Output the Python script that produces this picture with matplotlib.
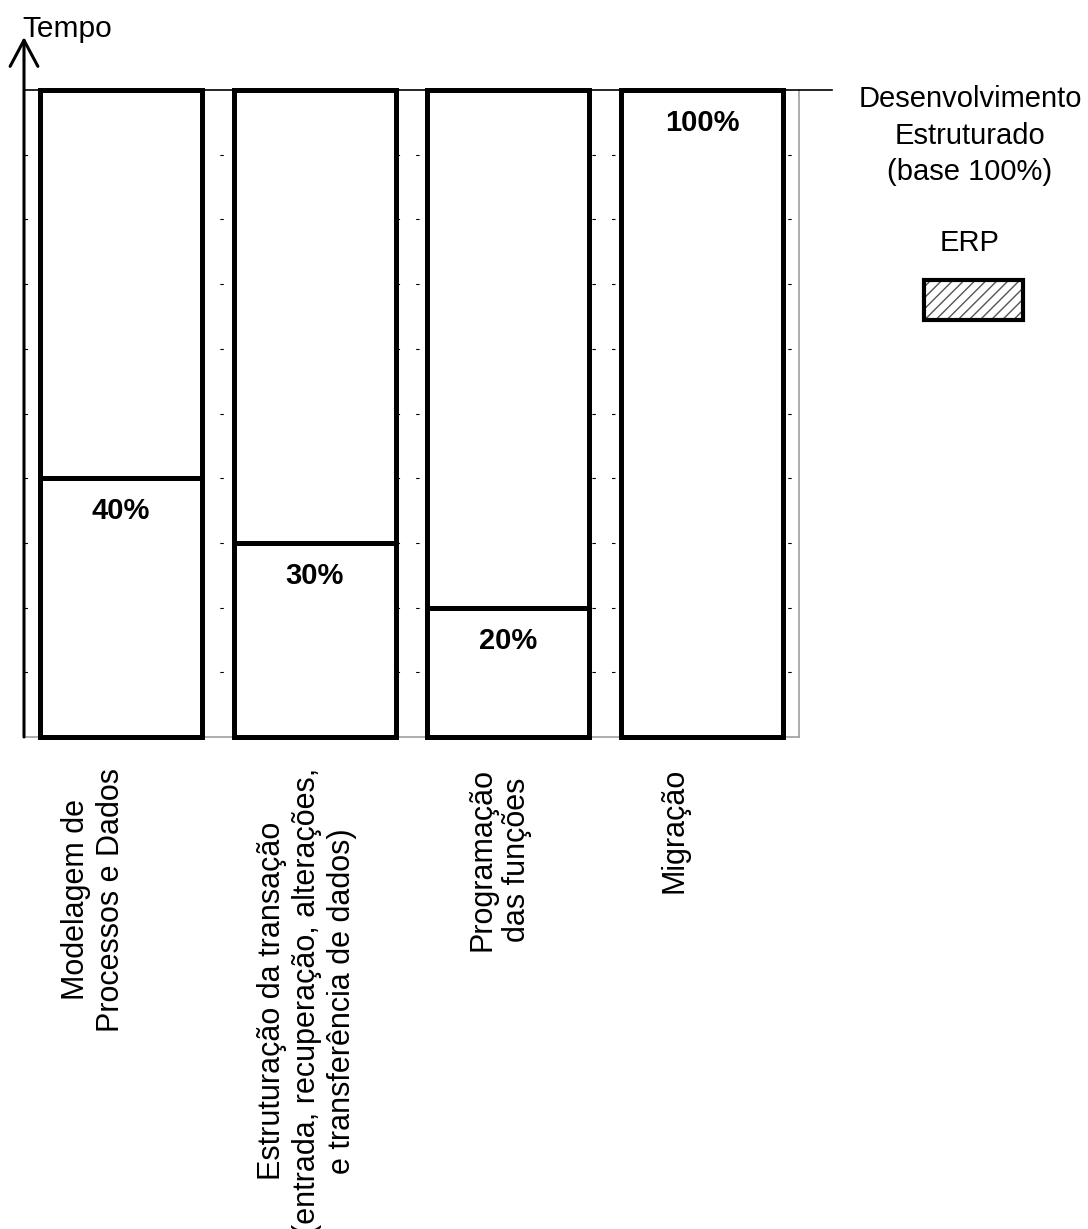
import matplotlib
matplotlib.use("Agg")
import matplotlib.pyplot as plt
from matplotlib.patches import Rectangle
import numpy as np

plt.rcParams["font.family"] = ["Liberation Sans", "DejaVu Sans"]
plt.rcParams["lines.scale_dashes"] = False

# data
categories = [
    "Modelagem de\nProcessos e Dados",
    "Estruturação da transação\n(entrada, recuperação, alterações,\ne transferência de dados)",
    "Programação\ndas funções",
    "Migração",
]
structured = [100, 100, 100, 100]   # desenvolvimento estruturado (base 100%)
erp = [40, 30, 20, 100]             # tempo com ERP
erp_labels = ["40%", "30%", "20%", "100%"]
grid_levels = [10, 20, 30, 40, 50, 60, 70, 80, 90]

W, H = 1088, 1229
fig = plt.figure(figsize=(W / 100, H / 100), dpi=100)
ax = fig.add_axes([24 / W, 1 - 737 / H, 775 / W, 647 / H])

x = np.arange(len(categories))
ax.set_xlim(-0.5, 3.5)
ax.set_ylim(0, 100)

ax.bar(x, structured, width=0.836, color="white", edgecolor="black",
       linewidth=3.6, clip_on=False, zorder=3)
ax.bar(x, erp, width=0.836, color="white", edgecolor="black",
       linewidth=3.6, clip_on=False, zorder=4)

# dashed gridlines, mostly hidden behind the bars
ax.set_yticks(grid_levels)
ax.set_xticks([])
ax.tick_params(length=0, labelleft=False, labelbottom=False)
ax.yaxis.grid(True, color="black", lw=0.8, linestyle=(0, (2.5, 11.6)))
ax.set_axisbelow(True)

for s in ["left", "top"]:
    ax.spines[s].set_visible(False)
for s in ["right", "bottom"]:
    ax.spines[s].set_color("#a0a0a0")
    ax.spines[s].set_linewidth(1.2)

# top reference line (100%)
ax.plot([0, 1.0426], [1, 1], transform=ax.transAxes, color="black",
        lw=1.2, clip_on=False, zorder=5)

# vertical time axis with open arrow
ax.annotate("", xy=(0, 1 + 53 / 647), xytext=(0, 0),
            xycoords="axes fraction", textcoords="axes fraction",
            arrowprops=dict(arrowstyle="->,head_length=0.94,head_width=0.5",
                            lw=2.2, color="black", mutation_scale=20,
                            shrinkA=0, shrinkB=0))
fig.text(22 / W, 1 - 37 / H, "Tempo", fontsize=21.5, ha="left", va="baseline")

# percentage labels inside bars
for xi, v, lab in zip(x, erp, erp_labels):
    ax.annotate(lab, xy=(xi, v), xytext=(0, -33 * 0.72), textcoords="offset points",
                ha="center", va="center", fontsize=21, fontweight="bold", zorder=6)

# rotated category labels
shifts = [-0.142, -0.039, -0.046, -0.145]
for xi, s, cat in zip(x, shifts, categories):
    ax.annotate(cat, xy=(xi + s, 0), xycoords=("data", "axes fraction"),
                xytext=(0, -31 * 0.72), textcoords="offset points",
                rotation=90, ha="center", va="top", multialignment="center",
                fontsize=22)

# legend
fig.text(970 / W, 1 - 85 / H, "Desenvolvimento\nEstruturado\n(base 100%)",
         ha="center", va="top", fontsize=21, linespacing=1.39)
fig.text(970 / W, 1 - 243 / H, "ERP", ha="center", va="center", fontsize=21)
fig.patches.append(Rectangle((922 / W, 1 - 322 / H), 103 / W, 44 / H,
                             transform=fig.transFigure, facecolor="white",
                             edgecolor="#555555", hatch="///", lw=0))
fig.patches.append(Rectangle((924 / W, 1 - 320 / H), 99 / W, 40 / H,
                             transform=fig.transFigure, fill=False,
                             edgecolor="black", lw=3))

fig.savefig("out.png", dpi=100)
